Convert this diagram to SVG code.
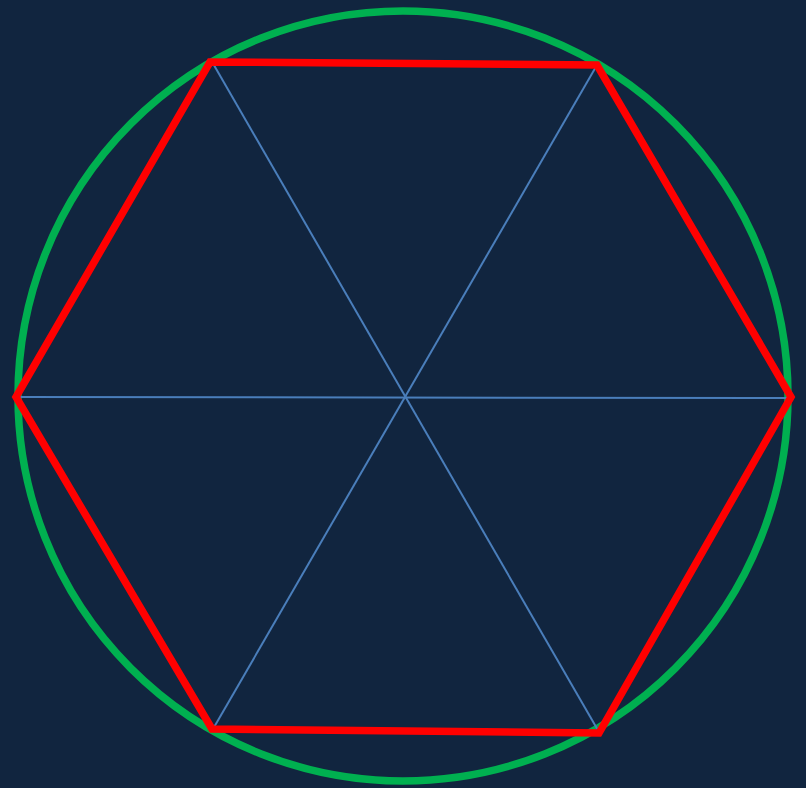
<svg xmlns="http://www.w3.org/2000/svg" width="806" height="788" viewBox="0 0 806 788">
<style>
.bg{fill:#11253f}
.circ{fill:none;stroke:#00b050;stroke-width:7.5}
.hex{fill:none;stroke:#ff0000;stroke-width:7.5;stroke-linejoin:miter}
.spoke{stroke:#4a7ebb;stroke-width:2;fill:none}
</style>
<rect class="bg" x="0" y="0" width="806" height="788"/>
<g id="circle"><circle class="circ" cx="403" cy="396" r="385"/></g>
<g id="connectors">
<line class="spoke" x1="211" y1="60" x2="599" y2="732"/>
<line class="spoke" x1="597" y1="65" x2="213" y2="729"/>
<line class="spoke" x1="16" y1="397" x2="793" y2="398"/>
</g>
<g id="hexagon"><polygon class="hex" points="210,62 597,65 791,397 599,733 212,729 16,397"/></g>
</svg>
